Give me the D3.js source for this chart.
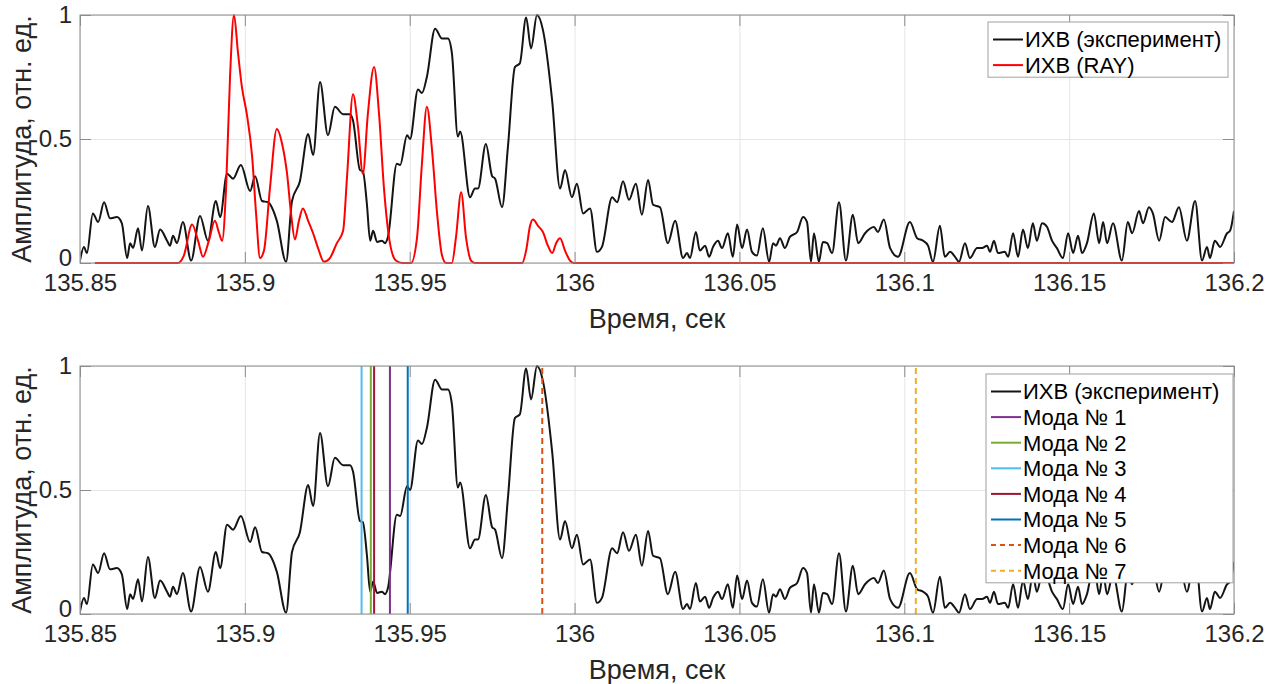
<!DOCTYPE html>
<html>
<head>
<meta charset="utf-8">
<script src="https://cdn.jsdelivr.net/npm/d3@7"></script>
<style>
html,body{margin:0;padding:0;background:#fff;}
svg{display:block;font-family:"Liberation Sans",Arial,Helvetica,sans-serif;}
</style>
</head>
<body>
<svg id="chart" width="1282" height="684"></svg>
<script>
// ---------------- DATA ----------------
const xTicks = [135.85, 135.9, 135.95, 136, 136.05, 136.1, 136.15, 136.2];
const xTickLabels = ["135.85", "135.9", "135.95", "136", "136.05", "136.1", "136.15", "136.2"];
const yTicks = [0, 0.5, 1];
const yTickLabels = ["0", "0.5", "1"];
const xLabel = "Время, сек";
const yLabel = "Амплитуда, отн. ед.";

// Experimental impulse response (ИХВ эксперимент)
const expTime = [135.8500,135.8512,135.8521,135.8539,135.8555,135.8573,135.8591,135.8612,135.8627,135.8643,135.8652,135.8661,135.8676,135.8688,135.8706,135.8727,135.8743,135.8764,135.8773,135.8782,135.8794,135.8812,135.8837,135.8864,135.8888,135.8912,135.8925,135.8946,135.8964,135.8988,135.9016,135.9031,135.9052,135.9070,135.9097,135.9125,135.9143,135.9167,135.9192,135.9207,135.9228,135.9252,135.9273,135.9298,135.9319,135.9328,135.9349,135.9358,135.9370,135.9380,135.9389,135.9401,135.9416,135.9425,135.9434,135.9461,135.9471,135.9492,135.9501,135.9525,135.9537,135.9552,135.9577,135.9598,135.9616,135.9628,135.9646,135.9653,135.9683,135.9698,135.9707,135.9731,135.9750,135.9759,135.9780,135.9798,135.9819,135.9834,135.9853,135.9868,135.9886,135.9904,135.9932,135.9956,135.9971,135.9992,136.0007,136.0026,136.0047,136.0068,136.0083,136.0114,136.0129,136.0147,136.0165,136.0186,136.0204,136.0223,136.0238,136.0259,136.0283,136.0305,136.0329,136.0341,136.0350,136.0368,136.0380,136.0396,136.0408,136.0420,136.0435,136.0447,136.0465,136.0480,136.0493,136.0508,136.0523,136.0538,136.0553,136.0571,136.0590,136.0602,136.0611,136.0623,136.0638,136.0653,136.0675,136.0693,136.0705,136.0717,136.0726,136.0741,136.0753,136.0766,136.0781,136.0802,136.0823,136.0844,136.0860,136.0881,136.0908,136.0920,136.0938,136.0957,136.0981,136.1017,136.1039,136.1057,136.1072,136.1087,136.1108,136.1123,136.1139,136.1154,136.1166,136.1184,136.1199,136.1221,136.1236,136.1251,136.1260,136.1272,136.1284,136.1305,136.1315,136.1330,136.1345,136.1360,136.1375,136.1390,136.1402,136.1418,136.1433,136.1448,136.1463,136.1481,136.1497,136.1512,136.1527,136.1539,136.1554,136.1575,136.1591,136.1603,136.1615,136.1633,136.1660,136.1678,136.1691,136.1712,136.1724,136.1742,136.1754,136.1773,136.1791,136.1812,136.1833,136.1857,136.1882,136.1903,136.1918,136.1927,136.1942,136.1958,136.1979,136.1988,136.2000];
const expAmp = [0.01,0.065,0.04,0.2,0.165,0.245,0.18,0.185,0.16,0.02,0.08,0.06,0.14,0.05,0.23,0.065,0.135,0.09,0.07,0.11,0.08,0.165,0.01,0.19,0.09,0.25,0.185,0.36,0.34,0.395,0.29,0.35,0.25,0.245,0.17,0.005,0.25,0.33,0.52,0.435,0.73,0.515,0.63,0.6,0.6,0.575,0.375,0.37,0.24,0.09,0.13,0.085,0.09,0.08,0.105,0.4,0.395,0.515,0.5,0.7,0.685,0.75,0.945,0.905,0.905,0.845,0.51,0.53,0.265,0.3,0.3,0.48,0.35,0.34,0.225,0.47,0.79,0.805,0.99,0.865,1.0,0.94,0.655,0.3,0.375,0.265,0.32,0.2,0.22,0.045,0.065,0.265,0.245,0.33,0.255,0.32,0.195,0.335,0.235,0.225,0.08,0.17,0.02,0.04,0.02,0.125,0.05,0.07,0.025,0.065,0.09,0.06,0.12,0.025,0.155,0.06,0.135,0.045,0.03,0.14,0.005,0.08,0.07,0.1,0.06,0.105,0.125,0.185,0.165,0.005,0.12,0.005,0.085,0.08,0.04,0.245,0.01,0.195,0.08,0.12,0.145,0.125,0.175,0.06,0.025,0.165,0.1,0.09,0.07,0.005,0.15,0.025,0.045,0.025,0.005,0.08,0.02,0.06,0.06,0.07,0.045,0.09,0.04,0.045,0.025,0.12,0.025,0.135,0.06,0.16,0.09,0.16,0.145,0.09,0.06,0.02,0.12,0.04,0.11,0.04,0.08,0.2,0.08,0.165,0.08,0.16,0.01,0.165,0.12,0.21,0.16,0.225,0.2,0.09,0.185,0.165,0.225,0.09,0.25,0.01,0.065,0.02,0.09,0.065,0.12,0.13,0.21];

// Modelled impulse response (ИХВ RAY)
const rayTime = [135.8545,135.8797,135.8815,135.8840,135.8858,135.8873,135.8891,135.8909,135.8922,135.8931,135.8943,135.8955,135.8967,135.8979,135.8991,135.9006,135.9022,135.9034,135.9046,135.9058,135.9076,135.9097,135.9113,135.9128,135.9140,135.9152,135.9164,135.9176,135.9192,135.9207,135.9222,135.9240,135.9258,135.9279,135.9298,135.9310,135.9328,135.9343,135.9358,135.9373,135.9392,135.9407,135.9422,135.9440,135.9458,135.9477,135.9504,135.9522,135.9537,135.9552,135.9568,135.9583,135.9598,135.9610,135.9628,135.9640,135.9656,135.9671,135.9686,135.9698,135.9841,135.9853,135.9865,135.9874,135.9889,135.9904,135.9919,135.9932,135.9944,135.9956,135.9971,135.9986,135.9998,136.2000];
const rayAmp = [0,0,0.03,0.155,0.09,0.025,0.09,0.17,0.12,0.09,0.3,0.75,1.0,0.85,0.71,0.6,0.43,0.2,0.02,0.05,0.3,0.54,0.48,0.36,0.2,0.095,0.17,0.22,0.17,0.12,0.06,0.005,0.02,0.08,0.13,0.35,0.68,0.55,0.36,0.6,0.79,0.6,0.3,0.08,0.01,0,0,0.1,0.4,0.63,0.45,0.2,0.03,0,0,0.1,0.285,0.1,0.01,0,0,0.05,0.15,0.175,0.15,0.125,0.07,0.04,0.08,0.1,0.05,0.01,0,0];

// Mode arrival times
const modeNames = ["Мода № 1", "Мода № 2", "Мода № 3", "Мода № 4", "Мода № 5", "Мода № 6", "Мода № 7"];
const modeTimes = [135.9440, 135.9382, 135.9354, 135.9392, 135.9494, 135.9902, 136.1035];

const expName = "ИХВ (эксперимент)";
const rayName = "ИХВ (RAY)";

// ---------------- STYLE ----------------
const modeColors = ["#7E2F8E", "#77AC30", "#4DBEEE", "#A2142F", "#0072BD", "#D95319", "#EDB120"];
const modeDashed = [false, false, false, false, false, true, true];
const boxColor = "#8c8c8c";
const gridColor = "#e6e6e6";
const tickFont = 24, labelFont = 27, legendFont = 22;

const svg = d3.select("#chart");
const x = d3.scaleLinear().domain([135.85, 136.2]).range([80, 1234]);

function drawPanel(top, bottom, idx) {
  const y = d3.scaleLinear().domain([0, 1]).range([bottom, top]);
  const g = svg.append("g");
  const clipId = "clip" + idx;
  svg.append("clipPath").attr("id", clipId).append("rect")
    .attr("x", 80).attr("y", top - 1).attr("width", 1154).attr("height", bottom - top + 2);

  g.append("g").attr("transform", `translate(0,${bottom})`)
    .call(d3.axisBottom(x).tickValues(xTicks).tickSize(-(bottom - top)).tickFormat(""))
    .call(a => { a.select(".domain").remove(); a.selectAll("line").attr("stroke", gridColor); });
  g.append("g").attr("transform", `translate(80,0)`)
    .call(d3.axisLeft(y).tickValues(yTicks).tickSize(-1154).tickFormat(""))
    .call(a => { a.select(".domain").remove(); a.selectAll("line").attr("stroke", gridColor); });

  return { g, y, clipId, top, bottom };
}

function finishPanel(p) {
  const { g, y, top, bottom } = p;
  g.append("rect").attr("x", 80).attr("y", top).attr("width", 1154).attr("height", bottom - top)
    .attr("fill", "none").attr("stroke", boxColor).attr("stroke-width", 1);
  const styleAxis = a => {
    a.select(".domain").remove();
    a.selectAll("line").attr("stroke", boxColor);
    a.selectAll("text").attr("font-size", tickFont).attr("fill", "#262626")
      .attr("font-family", '"Liberation Sans",Arial,sans-serif');
  };
  g.append("g").attr("transform", `translate(0,${bottom})`)
    .call(d3.axisBottom(x).tickValues(xTicks).tickSizeInner(-11).tickSizeOuter(0).tickPadding(11)
      .tickFormat((d, i) => xTickLabels[i]))
    .call(styleAxis);
  g.append("g").attr("transform", `translate(0,${top})`)
    .call(d3.axisTop(x).tickValues(xTicks).tickSizeInner(-11).tickSizeOuter(0).tickFormat(""))
    .call(styleAxis);
  g.append("g").attr("transform", `translate(80,0)`)
    .call(d3.axisLeft(y).tickValues(yTicks).tickSizeInner(-11).tickSizeOuter(0).tickPadding(8)
      .tickFormat((d, i) => yTickLabels[i]))
    .call(styleAxis)
    .call(a => a.selectAll("text").attr("dy", (d) => d === 0 ? "0.12em" : "0.32em"));
  g.append("g").attr("transform", `translate(1234,0)`)
    .call(d3.axisRight(y).tickValues(yTicks).tickSizeInner(-11).tickSizeOuter(0).tickFormat(""))
    .call(styleAxis);
  g.append("text").attr("x", 657).attr("y", bottom + 65).attr("text-anchor", "middle")
    .attr("font-size", labelFont).attr("fill", "#262626").text(xLabel);
  g.append("text").attr("transform", `translate(31,${(top + bottom) / 2}) rotate(-90)`)
    .attr("text-anchor", "middle").attr("font-size", labelFont).attr("fill", "#262626").text(yLabel);
}

function legend(x0, y0, w, entries) {
  const rowH = 25.6;
  const h = entries.length * rowH + 4;
  const lg = svg.append("g");
  lg.append("rect").attr("x", x0).attr("y", y0).attr("width", w).attr("height", h)
    .attr("fill", "#fff").attr("stroke", "#a0a0a0").attr("stroke-width", 1);
  entries.forEach((e, i) => {
    const cy = y0 + 17.5 + i * rowH;
    lg.append("line").attr("x1", x0 + 5).attr("x2", x0 + 35).attr("y1", cy).attr("y2", cy)
      .attr("stroke", e.color).attr("stroke-width", e.w || 2)
      .attr("stroke-dasharray", e.dashed ? "5,4" : null);
    lg.append("text").attr("x", x0 + 37).attr("y", cy).attr("dy", "0.36em")
      .attr("font-size", legendFont).attr("fill", "#000").text(e.name);
  });
}

const expData = expTime.map((t, i) => [t, expAmp[i]]);
const rayData = rayTime.map((t, i) => [t, rayAmp[i]]);

// ---- Top panel ----
const p1 = drawPanel(15, 263, 1);
const line1 = d3.line().x(d => x(d[0])).y(d => p1.y(d[1])).curve(d3.curveMonotoneX);
p1.g.append("path").datum(expData).attr("d", line1).attr("fill", "none")
  .attr("stroke", "#141414").attr("stroke-width", 2).attr("stroke-linejoin", "round")
  .attr("clip-path", `url(#${p1.clipId})`);
p1.g.append("path").datum(rayData).attr("d", line1).attr("fill", "none")
  .attr("stroke", "#ff0000").attr("stroke-width", 2).attr("stroke-linejoin", "round")
  .attr("clip-path", `url(#${p1.clipId})`);
finishPanel(p1);
legend(988, 22, 240, [
  { name: expName, color: "#141414" },
  { name: rayName, color: "#ff0000" }
]);

// ---- Bottom panel ----
const p2 = drawPanel(366, 614, 2);
const line2 = d3.line().x(d => x(d[0])).y(d => p2.y(d[1])).curve(d3.curveMonotoneX);
p2.g.append("path").datum(expData).attr("d", line2).attr("fill", "none")
  .attr("stroke", "#141414").attr("stroke-width", 2).attr("stroke-linejoin", "round")
  .attr("clip-path", `url(#${p2.clipId})`);
p2.g.selectAll("line.mode").data(modeTimes).enter().append("line").attr("class", "mode")
  .attr("x1", d => x(d)).attr("x2", d => x(d))
  .attr("y1", p2.y(0)).attr("y2", p2.y(1))
  .attr("stroke", (d, i) => modeColors[i]).attr("stroke-width", 2)
  .attr("stroke-dasharray", (d, i) => modeDashed[i] ? "6,4" : null);
finishPanel(p2);
legend(986, 374, 247, [{ name: expName, color: "#141414" }].concat(
  modeNames.map((n, i) => ({ name: n, color: modeColors[i], dashed: modeDashed[i], w: 2 }))));
</script>
</body>
</html>
